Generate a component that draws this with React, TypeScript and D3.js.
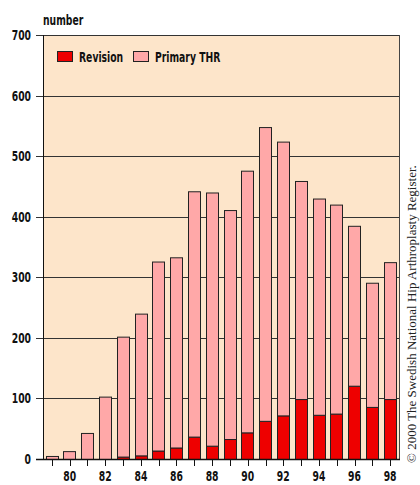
import React, {useEffect, useRef} from 'react';
import * as d3 from 'd3';

const years = ['79', '80', '81', '82', '83', '84', '85', '86', '87', '88', '89', '90', '91', '92', '93', '94', '95', '96', '97', '98'];
const totals = [5, 13, 43, 103, 202, 240, 326, 333, 442, 440, 411, 476, 548, 524, 459, 430, 420, 385, 291, 325];
const revision = [0, 0, 0, 0, 4, 6, 14, 19, 37, 22, 33, 44, 63, 72, 99, 73, 75, 121, 86, 99];
const primary = totals.map((t, i) => t - revision[i]);
const yTicks = [0, 100, 200, 300, 400, 500, 600, 700];
const seriesNames = ['Revision', 'Primary THR'];
const colors = ['#ee0000', '#ffa8a8'];

const font = '"DejaVu Sans", sans-serif';
const squeeze = 0.66;

export default function App() {
    const svgRef = useRef(null);

    useEffect(() => {
        const width = 420;
        const height = 485;
        const margin = {top: 35, right: 21, bottom: 26, left: 43};

        const svg = d3.select(svgRef.current)
            .attr('width', width)
            .attr('height', height);
        svg.selectAll('*').remove();

        // condensed bold label, squeezed horizontally
        const label = (parent, tx, ty, txt, anchor, size) => {
            parent.append('text')
                .attr('transform', `translate(${tx},${ty}) scale(${squeeze},1)`)
                .attr('text-anchor', anchor)
                .attr('font-family', font)
                .attr('font-weight', 'bold')
                .attr('font-size', size)
                .attr('fill', '#111')
                .text(txt);
        };

        const x = d3.scaleBand()
            .domain(years)
            .range([margin.left, width - margin.right])
            .paddingInner(0.3)
            .paddingOuter(0.15);

        const y = d3.scaleLinear()
            .domain([0, 700])
            .range([height - margin.bottom, margin.top]);

        // plot background
        svg.append('rect')
            .attr('x', margin.left)
            .attr('y', margin.top)
            .attr('width', width - margin.right - margin.left)
            .attr('height', y(0) - margin.top)
            .attr('fill', '#fde5ca');

        // gridlines + y ticks
        svg.append('g')
            .selectAll('line')
            .data(yTicks)
            .enter()
            .append('line')
            .attr('x1', margin.left - 7)
            .attr('x2', width - margin.right)
            .attr('y1', d => Math.round(y(d)) + 0.5)
            .attr('y2', d => Math.round(y(d)) + 0.5)
            .attr('stroke', '#333')
            .attr('stroke-width', 1);

        const yLabels = svg.append('g');
        yTicks.forEach(d => label(yLabels, margin.left - 12, y(d) + 5, d, 'end', 14));

        // stacked bars
        const stackData = years.map((yr, i) => ({year: yr, Revision: revision[i], 'Primary THR': primary[i]}));
        const stacked = d3.stack().keys(seriesNames)(stackData);

        stacked.forEach((layer, li) => {
            svg.append('g')
                .selectAll('rect')
                .data(layer)
                .enter()
                .append('rect')
                .attr('x', d => Math.round(x(d.data.year)) + 0.5)
                .attr('y', d => y(d[1]) + 0.5)
                .attr('width', Math.round(x.bandwidth()))
                .attr('height', d => Math.max(0, y(d[0]) - y(d[1])))
                .attr('fill', colors[li])
                .attr('stroke', '#222')
                .attr('stroke-width', 1);
        });

        // axes lines
        svg.append('line')
            .attr('x1', margin.left + 0.5)
            .attr('x2', margin.left + 0.5)
            .attr('y1', margin.top)
            .attr('y2', y(0) + 1)
            .attr('stroke', '#111');
        svg.append('line')
            .attr('x1', width - margin.right + 0.5)
            .attr('x2', width - margin.right + 0.5)
            .attr('y1', margin.top)
            .attr('y2', y(0) + 1)
            .attr('stroke', '#444');
        svg.append('line')
            .attr('x1', margin.left - 7)
            .attr('x2', width - margin.right + 1)
            .attr('y1', Math.round(y(0)) + 0.5)
            .attr('y2', Math.round(y(0)) + 0.5)
            .attr('stroke', '#111')
            .attr('stroke-width', 1.5);

        // x ticks
        svg.append('g')
            .selectAll('line')
            .data(years)
            .enter()
            .append('line')
            .attr('x1', d => Math.round(x(d) + x.bandwidth() / 2) + 0.5)
            .attr('x2', d => Math.round(x(d) + x.bandwidth() / 2) + 0.5)
            .attr('y1', y(0))
            .attr('y2', y(0) + 7)
            .attr('stroke', '#111');

        const xLabels = svg.append('g');
        years.filter((d, i) => i % 2 === 1)
            .forEach(d => label(xLabels, x(d) + x.bandwidth() / 2, y(0) + 22, d, 'middle', 14));

        // y label
        label(svg, margin.left, 25, 'number', 'start', 14);

        // legend
        const legendX = [57, 133];
        seriesNames.forEach((name, i) => {
            const g = svg.append('g').attr('transform', `translate(${legendX[i]},51)`);
            g.append('rect')
                .attr('x', 0.5)
                .attr('y', 0.5)
                .attr('width', 15)
                .attr('height', 10)
                .attr('fill', colors[i])
                .attr('stroke', '#222');
            label(g, 22, 11, name, 'start', 14);
        });

        // copyright
        svg.append('text')
            .attr('transform', `translate(416, 463) rotate(-90)`)
            .attr('font-family', '"Liberation Serif", "DejaVu Serif", serif')
            .attr('font-size', 13)
            .attr('fill', '#222')
            .text('\u00A9 2000 The Swedish National Hip Arthroplasty Register.');
    }, []);

    return (
        <div style={{position: 'absolute', left: 0, top: 0}}>
            <svg ref={svgRef} style={{display: 'block'}}/>
        </div>
    );
}
